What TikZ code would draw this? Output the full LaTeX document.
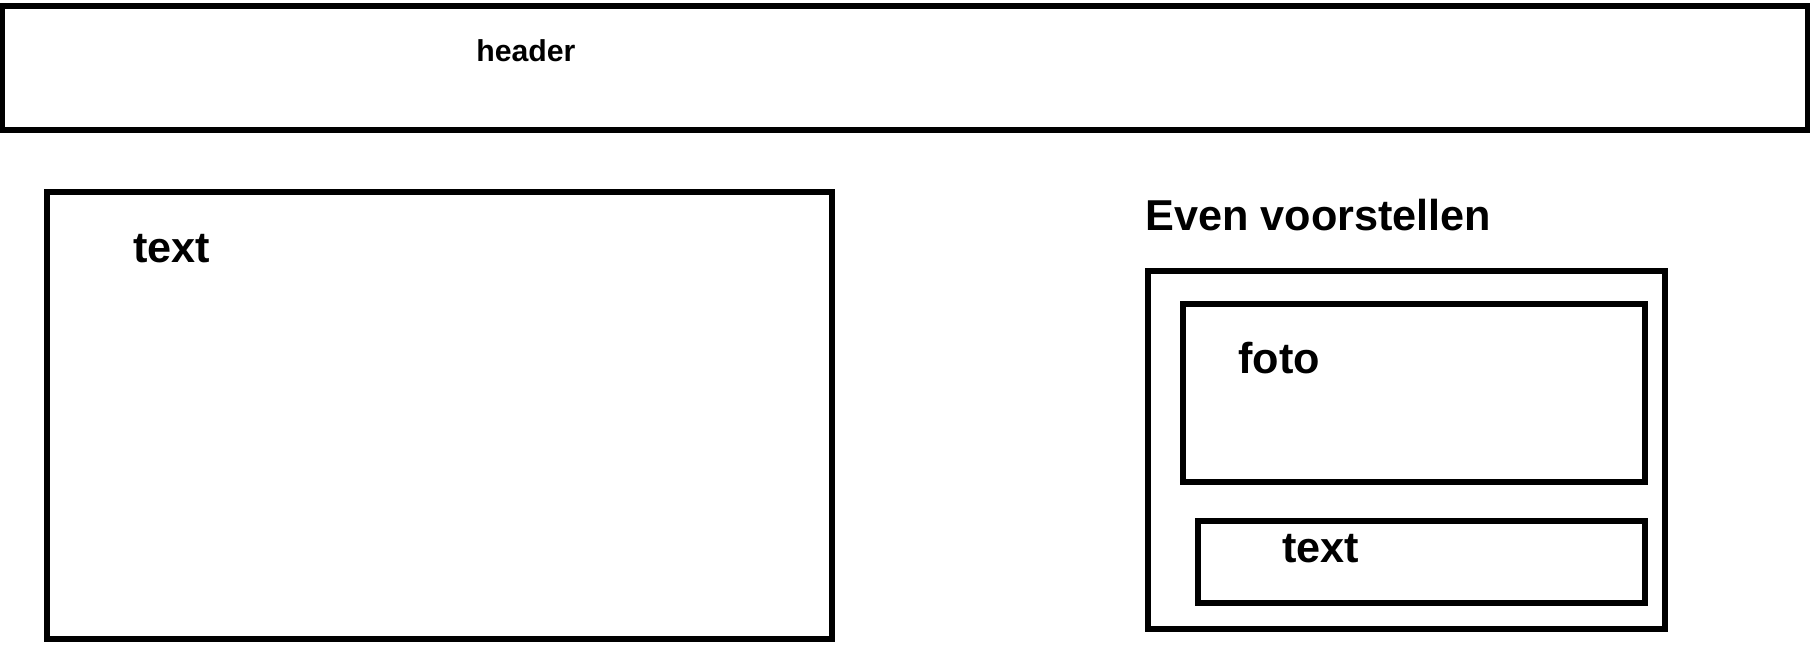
\documentclass[tikz,border=0pt]{standalone}
\usepackage{fontspec}
\setmainfont{Liberation Sans}
\usetikzlibrary{positioning}

\begin{document}
\begin{tikzpicture}[
			box/.style={draw, line width=2.9pt, anchor=north west, inner sep=0pt, outer sep=0pt},
			lbl/.style={anchor=base west, inner sep=0pt, font=\fontsize{24.6}{28}\selectfont\bfseries},
			small/.style={anchor=base west, inner sep=0pt, font=\fontsize{17.2}{20}\selectfont\bfseries}
			]
			\useasboundingbox (0,0) rectangle (36.2,13.38);
			
			% Header
			\node[box, minimum width=36.12cm, minimum height=2.48cm] (header) at (0.04,13.26) {};
			\node[small] (headertxt) at (9.52,12.16) {header};
			
			% Main text
			\node[box, minimum width=15.70cm, minimum height=8.94cm] (main) at (0.94,9.54) {};
			\node[lbl] (maintxt) at (2.66,8.14) {text};
			
			% Even voorstellen
			\node[lbl] (title) at (22.90,8.78) {Even voorstellen};
			\node[box, minimum width=10.34cm, minimum height=7.16cm] (card) at (22.96,7.96) {};
			\node[box, minimum width=9.24cm, minimum height=3.56cm] (foto) at (23.66,7.30) {};
			\node[lbl] (fototxt) at (24.76,5.92) {foto};
			\node[box, minimum width=8.94cm, minimum height=1.64cm] (cardtext) at (23.96,2.96) {};
			\node[lbl] (cardtxt) at (25.64,2.14) {text};
			
		\end{tikzpicture}
\end{document}
